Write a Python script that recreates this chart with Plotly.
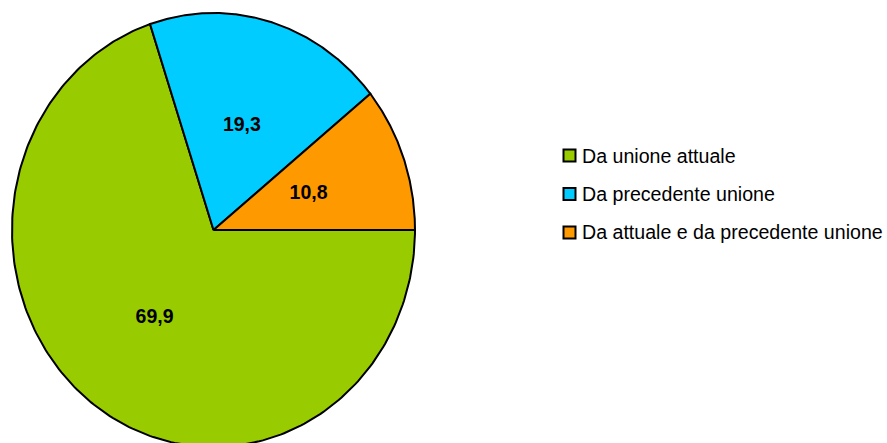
import numpy as np
import plotly.graph_objects as go

# Figli per tipo di unione (%)
categories = ["Da unione attuale", "Da precedente unione", "Da attuale e da precedente unione"]
values = [69.9, 19.3, 10.8]
colors = ["#99CC00", "#00CCFF", "#FF9900"]

W, H = 887, 443
FONT = "Arial, Liberation Sans, sans-serif"

# Pie drawn on a unit circle; axis ranges give the on-screen scale
cx_px, cy_px = 213.5, 230.0
sx, sy = 201.5, 217.0
x0 = -cx_px / sx
x1 = x0 + W / sx
y1 = cy_px / sy
y0 = y1 - H / sy

fig = go.Figure()

total = float(sum(values))
start = 0.0  # degrees, 3 o'clock, slices run clockwise
label_x, label_y, label_t = [], [], []
for cat, val, col in zip(categories, values, colors):
    sweep = 360.0 * val / total
    end = start - sweep
    th = np.radians(np.linspace(start, end, 240))
    xs = np.concatenate([[0.0], np.cos(th), [0.0]])
    ys = np.concatenate([[0.0], np.sin(th), [0.0]])
    fig.add_trace(go.Scatter(
        x=xs, y=ys, mode="lines", fill="toself", fillcolor=col,
        line=dict(color="black", width=2), name=cat, showlegend=False,
        hoverinfo="skip",
    ))
    mid = np.radians((start + end) / 2.0)
    label_x.append(0.5 * np.cos(mid))
    label_y.append(0.5 * np.sin(mid))
    label_t.append(f"{val:.1f}".replace(".", ","))
    start = end

fig.add_trace(go.Scatter(
    x=label_x, y=label_y, mode="text", text=label_t,
    textfont=dict(family=FONT, size=19.5, color="black", weight="bold"),
    showlegend=False, hoverinfo="skip",
))

# Legend: square swatches with text to the right
row0, row_gap = 155.5, 38.5
sq = 12
sq_cx = 569.5
text_x = 579.5
for i, (cat, col) in enumerate(zip(categories, colors)):
    cy = row0 + i * row_gap
    fig.add_shape(
        type="rect", xref="paper", yref="paper",
        x0=(sq_cx - sq / 2) / W, x1=(sq_cx + sq / 2) / W,
        y0=1 - (cy + sq / 2) / H, y1=1 - (cy - sq / 2) / H,
        fillcolor=col, line=dict(color="black", width=2),
    )
    fig.add_annotation(
        x=text_x / W, y=1 - cy / H, xref="paper", yref="paper",
        xanchor="left", yanchor="middle", text=cat, showarrow=False,
        font=dict(family=FONT, size=19.6, color="black"),
    )

fig.update_layout(
    width=W, height=H,
    margin=dict(l=0, r=0, t=0, b=0),
    paper_bgcolor="white", plot_bgcolor="white",
    xaxis=dict(range=[x0, x1], visible=False, fixedrange=True),
    yaxis=dict(range=[y0, y1], visible=False, fixedrange=True),
    showlegend=False,
)

fig.write_html("out.html")
